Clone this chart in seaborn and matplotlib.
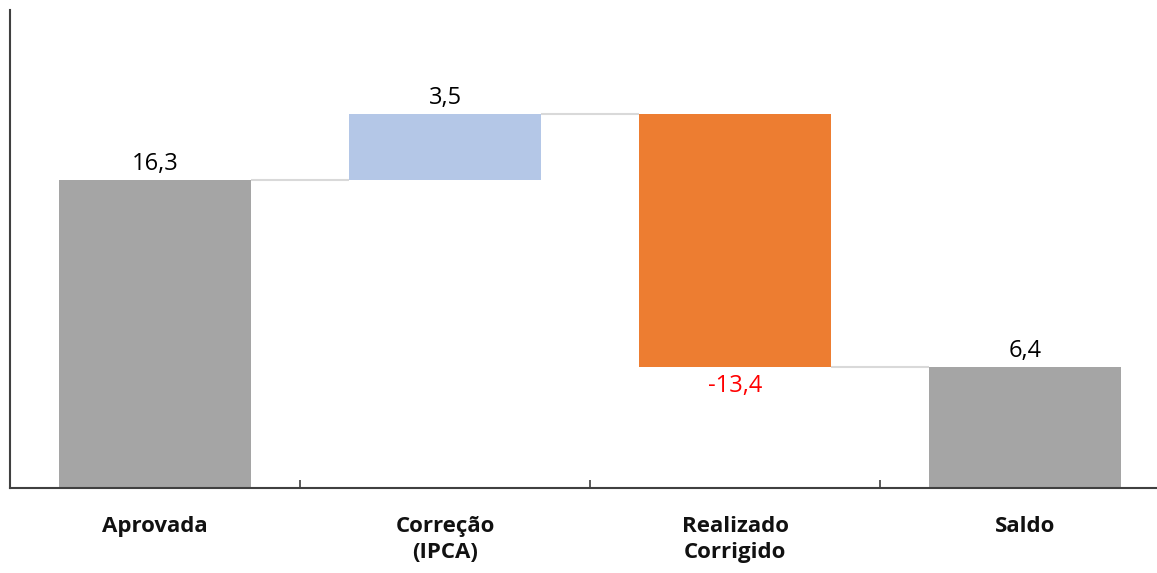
import numpy as np
import pandas as pd
import seaborn as sns
from matplotlib import pyplot as plt

categories = ['Aprovada', 'Correção\n(IPCA)', 'Realizado\nCorrigido', 'Saldo']
values = [16.3, 3.5, -13.4, 6.4]
value_labels = ['16,3', '3,5', '-13,4', '6,4']
is_total = [True, False, False, True]
bar_colors = ['#A5A5A5', '#B4C7E7', '#ED7D31', '#A5A5A5']
label_colors = ['black', 'black', '#FF0000', 'black']

# waterfall bases and heights
bottoms = []
heights = []
levels = []
running = 0.0
for v, tot in zip(values, is_total):
    if tot:
        bottoms.append(0.0)
        heights.append(v)
        running = v
    elif v >= 0:
        bottoms.append(running)
        heights.append(v)
        running += v
    else:
        bottoms.append(running + v)
        heights.append(-v)
        running += v
    levels.append(running)

df = pd.DataFrame({'cat': categories, 'height': heights})

sns.set_style('white')
plt.rcParams['font.family'] = ['Open Sans', 'DejaVu Sans']

fig = plt.figure(figsize=(11.57, 5.73), dpi=100)
ax = fig.add_axes([10 / 1157, 1 - 488 / 573, 1147 / 1157, 478 / 573])

width = 0.66
sns.barplot(data=df, x='cat', y='height', color='#A5A5A5', width=width,
            bottom=bottoms, ax=ax, saturation=1, linewidth=0)
for patch, c in zip(ax.patches, bar_colors):
    patch.set_facecolor(c)

# connector lines
for i in range(len(values) - 1):
    ax.hlines(levels[i], i + width / 2, i + 1 - width / 2, color='#D9D9D9',
              linewidth=1.5, zorder=1)

# value labels
for i, (b, h, v) in enumerate(zip(bottoms, heights, values)):
    if v >= 0:
        ax.text(i, b + h + 0.2, value_labels[i], ha='center', va='bottom',
                fontsize=17, color=label_colors[i])
    else:
        ax.text(i, b - 0.35, value_labels[i], ha='center', va='top',
                fontsize=17, color=label_colors[i])

ax.set_xlim(-0.5, 3.455)
ax.set_ylim(0, 25.3)
ax.set_yticks([])
ax.set_xlabel('')
ax.set_ylabel('')
ax.set_xticks(range(len(categories)))
ax.set_xticklabels(categories, fontsize=16, fontweight='bold',
                   linespacing=1.3, color='#111111')
ax.tick_params(axis='x', which='major', length=0, pad=20)
ax.set_xticks(np.arange(0.5, len(categories) - 1, 1), minor=True)
ax.tick_params(axis='x', which='minor', bottom=True, direction='in',
               length=6, width=1.2, color='#404040')
for s in ['top', 'right']:
    ax.spines[s].set_visible(False)
for s in ['left', 'bottom']:
    ax.spines[s].set_color('#404040')
    ax.spines[s].set_linewidth(1.5)

fig.savefig('out.png', dpi=100)
